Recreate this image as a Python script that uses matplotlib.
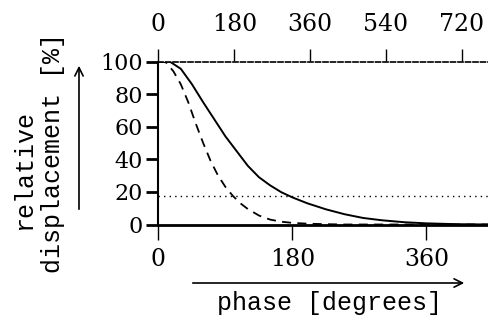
import matplotlib
matplotlib.use("Agg")
import matplotlib.pyplot as plt

# ---- data ----
phase_solid = [0, 15, 30, 45, 60, 75, 90, 105, 120, 135, 150, 165, 180, 200,
               225, 250, 275, 300, 330, 360, 400, 444]
disp_solid = [100, 100, 95.5, 86, 75, 64.5, 54, 45, 36, 29, 24, 19.8, 16.6, 13,
              9.3, 6.3, 4, 2.6, 1.4, 0.7, 0.2, 0]

phase_dashed = [0, 10, 20, 30, 40, 50, 60, 70, 80, 90, 100, 110, 120, 135, 150,
                165, 180, 200, 225, 250, 444]
disp_dashed = [100, 99.5, 94, 86, 75, 62, 50, 39, 30, 23, 17.5, 13, 9.5, 5.5, 3,
               1.7, 1, 0.5, 0.2, 0, 0]

ref_level = 17.5
bottom_ticks = [0, 180, 360]
top_ticks = [0, 180, 360, 540, 720]
y_ticks = [0, 20, 40, 60, 80, 100]
top_scale = 0.566  # bottom degrees per top-axis degree

W, H = 489, 320
fig = plt.figure(figsize=(W / 100, H / 100), dpi=100)
ax = fig.add_axes([158.5 / W, 1 - 224.5 / H, 1 - 158.5 / W, (224.5 - 61.5) / H])

ax.plot(phase_solid, disp_solid, color="black", lw=1.4, solid_capstyle="butt")
ax.plot(phase_dashed, disp_dashed, color="black", lw=1.3, ls=(0, (5, 3.5)))
ax.axhline(ref_level, color="black", lw=1.0, ls=(0, (1, 3)))

ax.set_xlim(0, 444)
ax.set_ylim(0, 100)

for s in ["right"]:
    ax.spines[s].set_visible(False)
ax.spines["top"].set_linestyle((0, (3, 1.5)))
ax.spines["top"].set_linewidth(1.2)
ax.spines["left"].set_linewidth(1.5)
ax.spines["bottom"].set_linewidth(2.0)

tickfont = dict(family="DejaVu Serif")
ax.set_xticks(bottom_ticks)
ax.set_xticklabels([str(t) for t in bottom_ticks], fontsize=17, **tickfont)
ax.set_yticks(y_ticks)
ax.set_yticklabels([str(t) for t in y_ticks], fontsize=16, **tickfont)
ax.tick_params(axis="x", direction="out", length=11, width=1.0, pad=6)
ax.tick_params(axis="y", direction="out", length=9, width=2.0, pad=2)

sec = ax.secondary_xaxis("top", functions=(lambda x: x / top_scale, lambda x: x * top_scale))
sec.set_xticks(top_ticks)
sec.set_xticklabels([str(t) for t in top_ticks], fontsize=17, **tickfont)
sec.tick_params(direction="out", length=9, width=1.0, pad=9)
sec.spines["top"].set_visible(False)

labfont = dict(family="Liberation Mono", fontsize=18, color="black")
fig.text(330 / W, 1 - 303 / H, "phase [degrees]", ha="center", va="center", **labfont)
fig.text(24 / W, 1 - 170 / H, "relative", ha="center", va="center", rotation=90, **labfont)
fig.text(53 / W, 1 - 153 / H, "displacement [%]", ha="center", va="center", rotation=90, **labfont)

fig.patches  # arrows
fig.add_artist(matplotlib.patches.FancyArrowPatch(
    (190 / W, 1 - 283 / H), (467 / W, 1 - 283 / H), transform=fig.transFigure,
    arrowstyle="->,head_length=6,head_width=3", lw=1.2, color="black"))
fig.add_artist(matplotlib.patches.FancyArrowPatch(
    (79 / W, 1 - 212 / H), (79 / W, 1 - 63 / H), transform=fig.transFigure,
    arrowstyle="->,head_length=6,head_width=3", lw=1.2, color="black"))

fig.savefig("out.png", dpi=100)
